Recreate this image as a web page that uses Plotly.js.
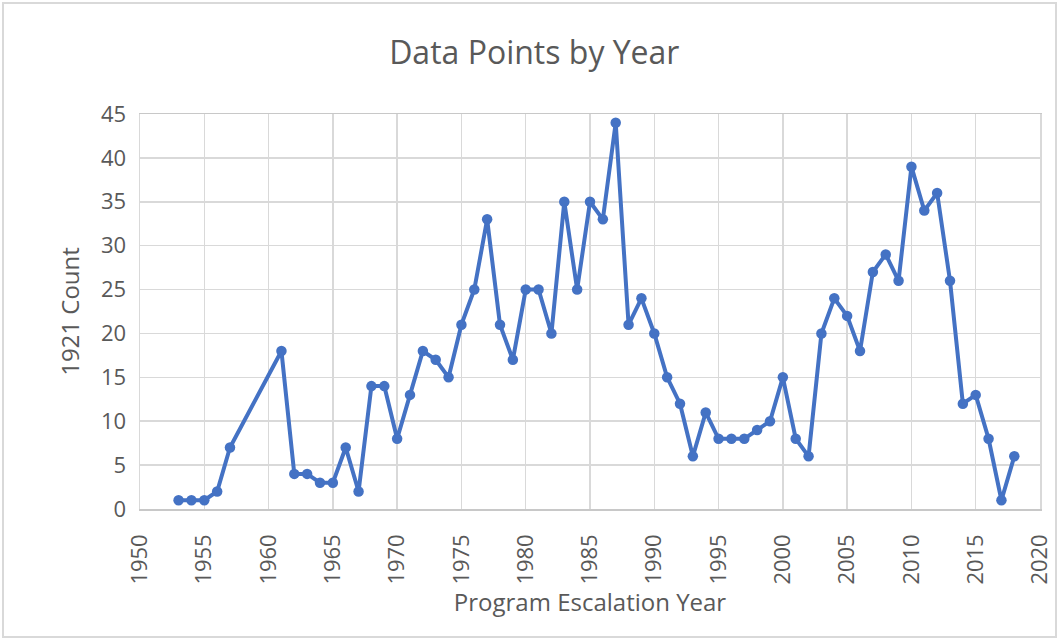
<!DOCTYPE html>
<html>
<head>
<meta charset="utf-8">
<script src="https://cdn.plot.ly/plotly-3.0.1.min.js"></script>
<style>
html,body{margin:0;padding:0;background:#fff;}
#wrap{position:relative;width:1058px;height:639px;}
#chart{width:1058px;height:639px;}
#frame{position:absolute;left:2px;top:2px;width:1051px;height:632px;border:2px solid #d9d9d9;pointer-events:none;}
</style>
</head>
<body>
<div id="wrap"><div id="chart"></div><div id="frame"></div></div>
<script>
const years = [1953,1954,1955,1956,1957,1961,1962,1963,1964,1965,1966,1967,1968,1969,1970,1971,1972,1973,1974,1975,1976,1977,1978,1979,1980,1981,1982,1983,1984,1985,1986,1987,1988,1989,1990,1991,1992,1993,1994,1995,1996,1997,1998,1999,2000,2001,2002,2003,2004,2005,2006,2007,2008,2009,2010,2011,2012,2013,2014,2015,2016,2017,2018];
const counts = [1,1,1,2,7,18,4,4,3,3,7,2,14,14,8,13,18,17,15,21,25,33,21,17,25,25,20,35,25,35,33,44,21,24,20,15,12,6,11,8,8,8,9,10,15,8,6,20,24,22,18,27,29,26,39,34,36,26,12,13,8,1,6];
const chartTitle = "Data Points by Year";
const xTitle = "Program Escalation Year";
const yTitle = "1921 Count";

const font = '"Open Sans", "Noto Sans", sans-serif';
const trace = {
  x: years, y: counts, type: 'scatter', mode: 'lines+markers',
  line: {color: '#4472C4', width: 4},
  marker: {color: '#4472C4', size: 10.5},
  cliponaxis: false, hoverinfo: 'x+y'
};
const layout = {
  width: 1058, height: 639,
  margin: {l: 140, r: 18, t: 114, b: 130},
  paper_bgcolor: '#fff', plot_bgcolor: '#fff',
  showlegend: false,
  font: {family: font, color: '#595959'},
  title: {text: chartTitle, font: {family: font, size: 32, color: '#595959'},
          x: 0.505, xanchor: 'center', y: 1 - 53/639, yanchor: 'middle', yref: 'container'},
  xaxis: {
    range: [1950, 2020], dtick: 5, tick0: 1950, tickangle: -90,
    showgrid: true, gridcolor: '#d9d9d9', gridwidth: 1.5,
    showline: true, linecolor: '#c8c8c8', linewidth: 1.5, mirror: true,
    zeroline: false, ticks: '', ticklen: 0, ticklabelstandoff: 15,
    tickfont: {family: font, size: 22, color: '#595959'},
    title: {text: xTitle, font: {family: font, size: 24, color: '#595959'}, standoff: 4}
  },
  yaxis: {
    range: [0, 45], dtick: 5, tick0: 0,
    showgrid: true, gridcolor: '#d9d9d9', gridwidth: 1.5,
    showline: true, linecolor: '#d9d9d9', linewidth: 1.5, mirror: true,
    zeroline: false, ticks: '', ticklen: 0, ticklabelstandoff: 8,
    tickfont: {family: font, size: 22, color: '#595959'},
    title: {text: yTitle, font: {family: font, size: 24, color: '#595959'}, standoff: 14}
  }
};
Plotly.newPlot('chart', [trace], layout, {displayModeBar: false, staticPlot: true});
</script>
</body>
</html>
